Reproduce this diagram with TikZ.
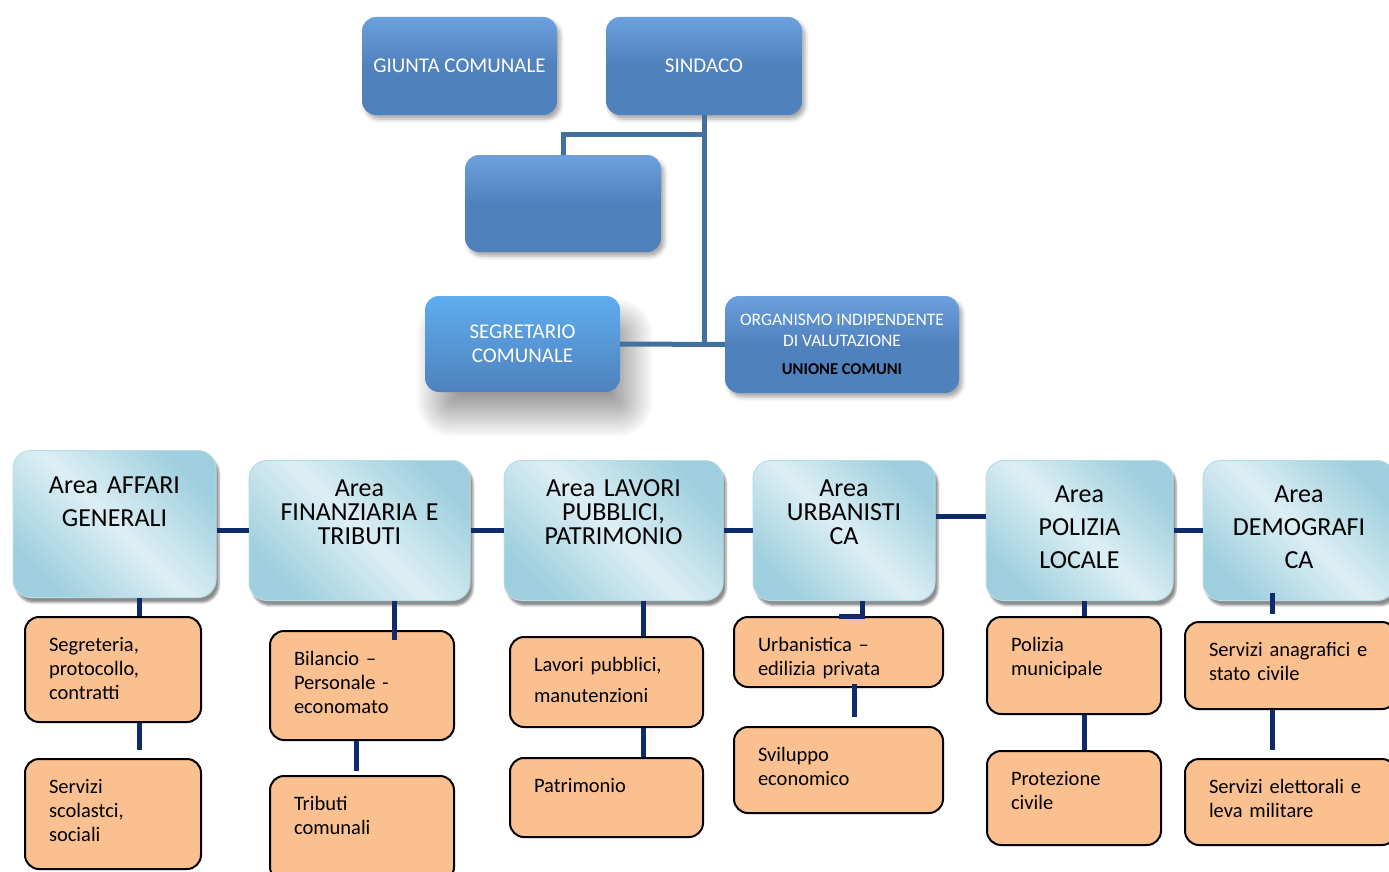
\documentclass[tikz,border=0pt]{standalone}
\usepackage{fontspec}
\setmainfont{Carlito}
\usetikzlibrary{shadows, shadows.blur}

\definecolor{bluCapo}{HTML}{4F81BD}
\definecolor{bluChiaro}{HTML}{6CA0DE}
\definecolor{bluSegr}{HTML}{5EADEF}
\definecolor{azzurroScuro}{HTML}{9FCFDE}
\definecolor{azzurroChiaro}{HTML}{DDEFF4}
\definecolor{azzurroBordo}{HTML}{B5DCE7}
\definecolor{arancio}{HTML}{FAC090}
\definecolor{bluLinea}{HTML}{41719C}
\definecolor{bluNotte}{HTML}{0E2C6B}

\tikzset{
  capo/.style={rounded corners=14pt, top color=bluChiaro, bottom color=bluCapo, middle color=bluCapo,
    text=white, align=center, inner sep=0pt, font=\fontsize{21}{24}\selectfont,
    blur shadow={shadow xshift=3pt, shadow yshift=-4pt, shadow blur radius=4pt, shadow opacity=35}},
  area/.style={rounded corners=18pt, draw=azzurroBordo, line width=1pt,
    top color=azzurroScuro, bottom color=azzurroScuro, middle color=azzurroChiaro, shading angle=-45,
    anchor=north, align=center, inner xsep=4pt, text height=18pt,
    blur shadow={shadow xshift=3pt, shadow yshift=-5pt, shadow blur radius=2pt, shadow opacity=45}},
  ufficio/.style={draw=black, line width=2pt, fill=arancio, rounded corners=14pt, anchor=north west,
    align=left, inner xsep=24pt, inner ysep=20pt, text height=14pt, font=\fontsize{20.5}{24}\selectfont},
  linea/.style={bluLinea, line width=5pt},
  ramo/.style={bluNotte, line width=5pt},
}

\begin{document}
\begin{tikzpicture}[x=1pt, y=-1pt]
\useasboundingbox (0,0) rectangle (1389,872);
\clip (0,0) rectangle (1389,872);

% top
\node[capo, minimum width=195pt, minimum height=98pt] (giunta) at (459.5,66) {GIUNTA COMUNALE};
\node[capo, minimum width=196pt, minimum height=98pt] (sind) at (704,66) {SINDACO};
\node[capo, minimum width=196pt, minimum height=97pt] (vuoto) at (563,203.5) {};
\node[capo, top color=bluSegr, minimum width=195pt, minimum height=96pt,
  blur shadow={shadow xshift=12pt, shadow yshift=-24pt, shadow blur radius=22pt, shadow blur steps=30, shadow opacity=22}]
  (segr) at (522.5,344) {SEGRETARIO\\COMUNALE};
\node[capo, minimum width=234pt, minimum height=97pt, font=\fontsize{17.5}{21}\selectfont]
  (oiv) at (842,344.5) {ORGANISMO INDIPENDENTE\\DI VALUTAZIONE\\[7pt]{\color{black}\bfseries\fontsize{16.5}{20}\selectfont UNIONE COMUNI}};

% aree
\node[area, text width=195pt, inner ysep=25pt, text depth=79pt, font=\fontsize{26}{33}\selectfont]
  (a1) at (114.5,450) {Area AFFARI\\GENERALI};
\node[area, text width=213pt, inner ysep=18pt, text depth=86pt, font=\fontsize{26}{24}\selectfont]
  (a2) at (359.5,460) {Area\\FINANZIARIA E\\TRIBUTI};
\node[area, text width=211pt, inner ysep=18pt, text depth=86pt, font=\fontsize{26}{24}\selectfont]
  (a3) at (613.5,460) {Area LAVORI\\PUBBLICI,\\PATRIMONIO};
\node[area, text width=174pt, inner ysep=18pt, text depth=86pt, font=\fontsize{26}{24}\selectfont]
  (a4) at (844,460) {Area\\URBANISTI\\CA};
\node[area, text width=179pt, inner ysep=24pt, text depth=74pt, font=\fontsize{26}{33}\selectfont]
  (a5) at (1079.5,460) {Area\\POLIZIA\\LOCALE};
\node[area, text width=184pt, inner ysep=24pt, text depth=74pt, font=\fontsize{26}{33}\selectfont]
  (a6) at (1299,460) {Area\\DEMOGRAFI\\CA};

% uffici
\node[ufficio, text width=128pt, text depth=51pt] (o11) at (24,616) {Segreteria,\\protocollo,\\contratti};
\node[ufficio, text width=128pt, text depth=56pt] (o12) at (24,758) {Servizi\\scolastci,\\sociali};
\node[ufficio, text width=136pt, text depth=55pt] (o21) at (269,630) {Bilancio --\\Personale -\\economato};
\node[ufficio, text width=136pt, text depth=51pt] (o22) at (269,775) {Tributi\\comunali};
\node[ufficio, text width=145pt, text depth=36pt] (o31) at (509,636) {Lavori pubblici,\\[7pt]manutenzioni};
\node[ufficio, text width=145pt, text depth=25pt] (o32) at (509,757) {Patrimonio};
\node[ufficio, text width=161pt, text depth=16pt] (o41) at (733,616) {Urbanistica --\\edilizia privata};
\node[ufficio, text width=161pt, text depth=32pt] (o42) at (733,726) {Sviluppo\\economico};
\node[ufficio, text width=126pt, text depth=43pt] (o51) at (986,616) {Polizia\\municipale};
\node[ufficio, text width=126pt, text depth=40pt] (o52) at (986,750) {Protezione\\civile};
\node[ufficio, text width=163pt, text depth=33pt] (o61) at (1184,621) {Servizi anagrafici e\\stato civile};
\node[ufficio, text width=163pt, text depth=32pt] (o62) at (1184,758) {Servizi elettorali e\\leva militare};

% lines
\coordinate (snodo) at (704,135);
\draw[linea] (sind.south) -- (sind.south |- oiv.west);
\draw[linea] (snodo) -| (vuoto.north);
\draw[linea] (segr.east) -- (oiv.west);

\draw[ramo] (a1.east |- a2.west) -- (a2.west);
\draw[ramo] (a2.east) -- (a3.west);
\draw[ramo] (a3.east) -- (a4.west);
\draw[ramo] ([yshift=14pt]a4.east) -- ([yshift=14pt]a5.west);
\draw[ramo] (a5.east) -- (a6.west);

\coordinate (c1) at (139,0);
\coordinate (c2) at (394,0);
\coordinate (c2b) at (356,0);
\coordinate (c3) at (643,0);
\coordinate (c4) at (862,0);
\coordinate (c4b) at (854,0);
\coordinate (c5) at (1084,0);
\coordinate (c6) at (1272,0);

\draw[ramo] (a1.south -| c1) -- (o11.north -| c1);
\draw[ramo, shorten >=8pt] (o11.south -| c1) -- (o12.north -| c1);
\draw[ramo, shorten >=-10pt] (a2.south -| c2) -- (o21.north -| c2);
\draw[ramo, shorten >=4pt] (o21.south -| c2b) -- (o22.north -| c2b);
\draw[ramo] (a3.south -| c3) -- (o31.north -| c3);
\draw[ramo] (o31.south -| c3) -- (o32.north -| c3);
\draw[ramo] (a4.south -| c4) |- (o41.north);
\draw[ramo, shorten <=-4pt, shorten >=9pt] (o41.south -| c4b) -- (o42.north -| c4b);
\draw[ramo] (a5.south -| c5) -- (o51.north -| c5);
\draw[ramo] (o51.south -| c5) -- (o52.north -| c5);
\draw[ramo, shorten <=-8pt, shorten >=7pt] (a6.south -| c6) -- (o61.north -| c6);
\draw[ramo, shorten >=8pt] (o61.south -| c6) -- (o62.north -| c6);
\end{tikzpicture}
\end{document}
